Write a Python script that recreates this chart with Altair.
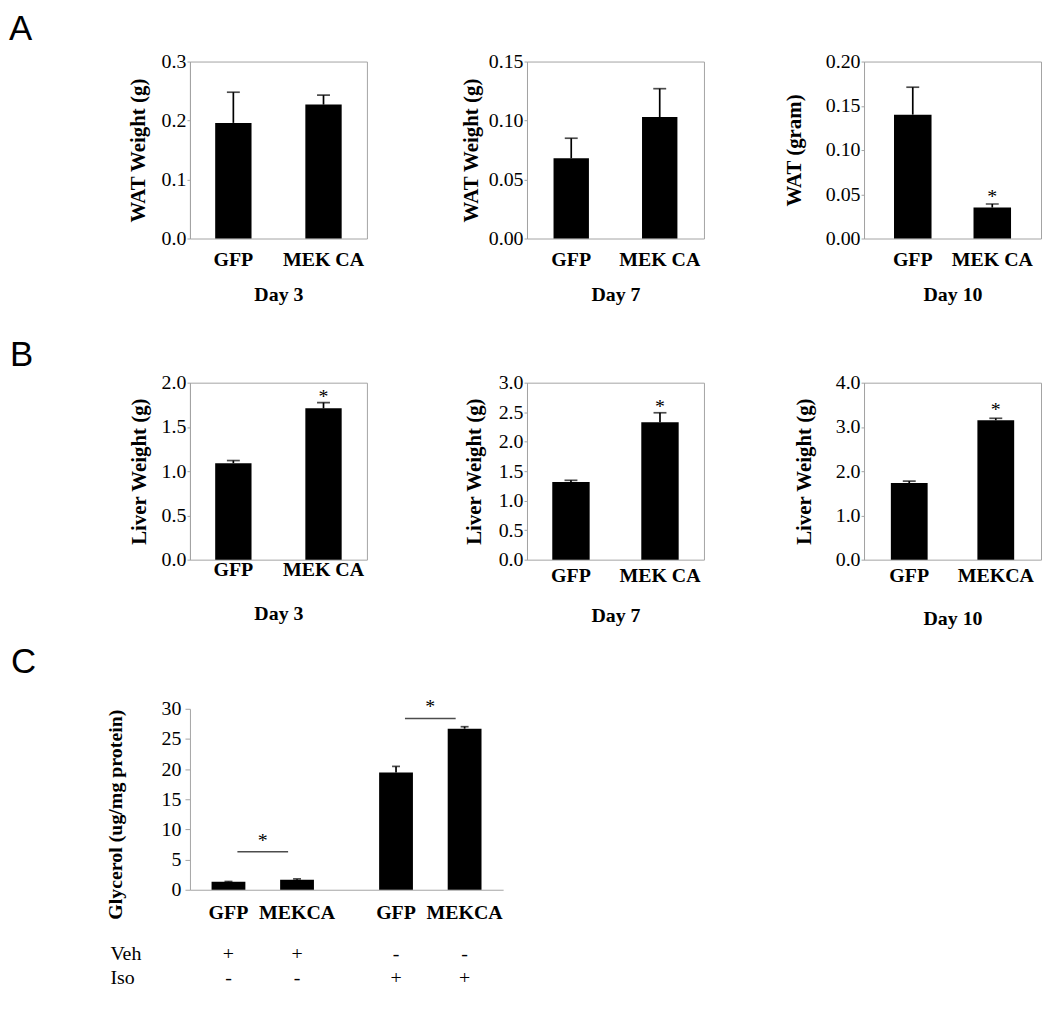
import altair as alt
import pandas as pd

SERIF = "Liberation Serif"
SANS = "Liberation Sans"
FRAME = "#a3a3a3"

# ---------------- Panel A: WAT weight ----------------
wat_groups = ["GFP", "MEK CA"]
wat_days = ["Day 3", "Day 7", "Day 10"]
wat_titles = ["WAT Weight (g)", "WAT Weight (g)", "WAT (gram)"]
wat_day3 = [0.196, 0.227]
wat_day3_err = [0.052, 0.016]
wat_day7 = [0.068, 0.103]
wat_day7_err = [0.017, 0.024]
wat_day10 = [0.140, 0.035]
wat_day10_err = [0.031, 0.004]
wat_ticks_day3 = [0.0, 0.1, 0.2, 0.3]
wat_ticks_day7 = [0.0, 0.05, 0.10, 0.15]
wat_ticks_day10 = [0.0, 0.05, 0.10, 0.15, 0.20]
wat_star_day10 = 0.040

# ---------------- Panel B: liver weight ----------------
liver_groups = ["GFP", "MEK CA"]
liver_groups_day10 = ["GFP", "MEKCA"]
liver_titles = ["Liver Weight (g)", "Liver Weight (g)", "Liver Weight (g)"]
liver_day3 = [1.09, 1.71]
liver_day3_err = [0.03, 0.065]
liver_day7 = [1.315, 2.33]
liver_day7_err = [0.03, 0.16]
liver_day10 = [1.73, 3.15]
liver_day10_err = [0.045, 0.045]
liver_ticks_day3 = [0.0, 0.5, 1.0, 1.5, 2.0]
liver_ticks_day7 = [0.0, 0.5, 1.0, 1.5, 2.0, 2.5, 3.0]
liver_ticks_day10 = [0.0, 1.0, 2.0, 3.0, 4.0]
liver_stars = [1.77, 2.48, 3.245]

# ---------------- Panel C: glycerol release ----------------
glycerol_treat = ["Veh", "Veh", "Iso", "Iso"]
glycerol_virus = ["GFP", "MEKCA", "GFP", "MEKCA"]
glycerol = [1.32, 1.65, 19.45, 26.7]
glycerol_err = [0.05, 0.15, 1.0, 0.33]
veh_signs = ["+", "+", "-", "-"]
iso_signs = ["-", "-", "+", "+"]
sig_treat = ["Veh", "Iso"]
sig_line = [6.3, 28.4]
sig_star = [7.15, 29.24]
glycerol_ticks = [0, 5, 10, 15, 20, 25, 30]

PW, PH = 178, 178


def letter_layer(letter, dx, dy, size=35):
    return alt.Chart(pd.DataFrame({"t": [letter]})).mark_text(
        font=SANS, fontSize=size, align="left", baseline="top", color="black"
    ).encode(x=alt.value(dx), y=alt.value(dy), text="t:N")


def anchor_layer(ypos):
    # invisible zero-length rule that fixes the lower extent of a row
    return alt.Chart(pd.DataFrame({"a": [0]})).mark_rule(
        opacity=0, strokeWidth=0
    ).encode(x=alt.value(0), y=alt.value(ypos), y2=alt.value(ypos))


def bar_panel(labels, means, errs, ticks, fmt, ytitle, day, pi, po,
              ytitle_pad, label_pad, xtitle_pad, star=None, letter=None,
              anchor=None):
    df = pd.DataFrame({"g": labels, "m": means,
                       "hi": [m + e for m, e in zip(means, errs)]})
    xenc = alt.X("g:N", sort=labels,
                 scale=alt.Scale(paddingInner=pi, paddingOuter=po),
                 axis=alt.Axis(title=day, labelAngle=0, ticks=False, tickSize=0,
                               domain=False, labelFontWeight="bold",
                               labelPadding=label_pad, titlePadding=xtitle_pad))
    yscale = alt.Scale(domain=[0, ticks[-1]], nice=False, zero=True)
    yaxis = alt.Axis(title=ytitle, values=ticks, format=fmt, grid=False,
                     tickSize=3, labelPadding=1, titlePadding=ytitle_pad,
                     titleFontSize=21)

    def Y(f):
        return alt.Y(f, scale=yscale, axis=yaxis)

    base = alt.Chart(df)
    layers = [
        base.mark_bar(color="black").encode(x=xenc, y=Y("m:Q")),
        base.mark_rule(color="black", strokeWidth=1.7).encode(
            x=xenc, y=Y("m:Q"), y2="hi:Q"),
        base.mark_tick(color="black", thickness=1.7, size=13).encode(
            x=xenc, y=Y("hi:Q")),
    ]
    if star is not None:
        sdf = pd.DataFrame({"g": [labels[1]], "s": [star], "t": ["*"]})
        layers.append(alt.Chart(sdf).mark_text(
            font=SERIF, fontSize=20, baseline="alphabetic", color="black"
        ).encode(x=xenc, y=Y("s:Q"), text="t:N"))
    if letter is not None:
        layers.append(letter_layer(*letter))
    if anchor is not None:
        layers.append(anchor_layer(anchor))
    return alt.layer(*layers).properties(width=PW, height=PH)


a1 = bar_panel(wat_groups, wat_day3, wat_day3_err, wat_ticks_day3, ".1f",
               wat_titles[0], wat_days[0], 0.597, 0.28, 13, 11, 15,
               letter=("A", -182, -50), anchor=PH + 98)
a2 = bar_panel(wat_groups, wat_day7, wat_day7_err, wat_ticks_day7, ".2f",
               wat_titles[1], wat_days[1], 0.60, 0.30, 7, 11, 15)
a3 = bar_panel(wat_groups, wat_day10, wat_day10_err, wat_ticks_day10, ".2f",
               wat_titles[2], wat_days[2], 0.528, 0.377, 21, 11, 15,
               star=wat_star_day10)

b1 = bar_panel(liver_groups, liver_day3, liver_day3_err, liver_ticks_day3, ".1f",
               liver_titles[0], wat_days[0], 0.597, 0.28, 12, 0, 24,
               star=liver_stars[0], letter=("B", -181, -45), anchor=PH + 84)
b2 = bar_panel(liver_groups, liver_day7, liver_day7_err, liver_ticks_day7, ".1f",
               liver_titles[1], wat_days[1], 0.58, 0.284, 14, 6, 20,
               star=liver_stars[1])
b3 = bar_panel(liver_groups_day10, liver_day10, liver_day10_err, liver_ticks_day10, ".1f",
               liver_titles[2], wat_days[2], 0.575, 0.31, 21, 6, 23,
               star=liver_stars[2])

# ---------------- Panel C chart ----------------
cdf = pd.DataFrame({
    "t": glycerol_treat, "v": glycerol_virus, "m": glycerol,
    "hi": [m + e for m, e in zip(glycerol, glycerol_err)],
    "veh": veh_signs, "iso": iso_signs,
})
sdf = pd.DataFrame({"t": sig_treat, "line": sig_line, "star": sig_star,
                    "s": ["*", "*"]})

cx = alt.X("t:N", sort=sig_treat,
           scale=alt.Scale(paddingInner=0.389, paddingOuter=0.129),
           axis=alt.Axis(title=None, labels=False, ticks=False, domain=True))
cxo = alt.XOffset("v:N", sort=["GFP", "MEKCA"],
                  scale=alt.Scale(paddingInner=0.507, paddingOuter=0))
cys = alt.Scale(domain=[0, 30], nice=False, zero=True)
cya = alt.Axis(title="Glycerol (ug/mg protein)", values=glycerol_ticks, format="d",
               grid=False, tickSize=5, labelPadding=4, titlePadding=36, titleY=106)


def CY(f):
    return alt.Y(f, scale=cys, axis=cya)


cbase = alt.Chart(cdf)
c_layers = [
    cbase.mark_bar(color="black").encode(x=cx, xOffset=cxo, y=CY("m:Q")),
    cbase.mark_rule(color="black", strokeWidth=1.7).encode(
        x=cx, xOffset=cxo, y=CY("m:Q"), y2="hi:Q"),
    cbase.mark_tick(color="black", thickness=1.7, size=8).encode(
        x=cx, xOffset=cxo, y=CY("hi:Q")),
    cbase.mark_text(font=SERIF, fontSize=20, fontWeight="bold",
                    baseline="alphabetic", color="black").encode(
        x=cx, xOffset=cxo, y=alt.value(211), text="v:N"),
    cbase.mark_text(font=SERIF, fontSize=20, baseline="alphabetic",
                    color="black").encode(
        x=cx, xOffset=cxo, y=alt.value(253), text="veh:N"),
    cbase.mark_text(font=SERIF, fontSize=20, baseline="alphabetic",
                    color="black").encode(
        x=cx, xOffset=cxo, y=alt.value(277), text="iso:N"),
    alt.Chart(pd.DataFrame({"r": ["Veh"]})).mark_text(
        font=SERIF, fontSize=20, align="left", baseline="alphabetic", color="black"
    ).encode(x=alt.value(-80), y=alt.value(253), text="r:N"),
    alt.Chart(pd.DataFrame({"r": ["Iso"]})).mark_text(
        font=SERIF, fontSize=20, align="left", baseline="alphabetic", color="black"
    ).encode(x=alt.value(-80), y=alt.value(277), text="r:N"),
    alt.Chart(sdf).mark_tick(color="black", thickness=1.5, size=51).encode(
        x=cx, y=CY("line:Q")),
    alt.Chart(sdf).mark_text(font=SERIF, fontSize=20, baseline="alphabetic",
                             color="black").encode(
        x=cx, y=CY("star:Q"), text="s:N"),
    letter_layer("C", -180, -64),
]
c_chart = alt.layer(*c_layers).properties(
    width=315, height=182, view=alt.ViewBackground(stroke="transparent"))

row_a = alt.hconcat(a1, a2, a3, spacing=161, bounds="flush")
row_b = alt.hconcat(b1, b2, b3, spacing=161, bounds="flush")

chart = alt.vconcat(
    row_a, row_b, c_chart, spacing=0
).properties(
    padding=0, background="white"
).configure_view(
    stroke=FRAME, strokeWidth=1
).configure_axis(
    labelFont=SERIF, titleFont=SERIF, labelFontSize=20, titleFontSize=20,
    labelColor="black", titleColor="black", titleFontWeight="bold",
    domainColor=FRAME, tickColor=FRAME, grid=False
)

chart.save("out.html", embed_options={"renderer": "svg", "actions": False})
